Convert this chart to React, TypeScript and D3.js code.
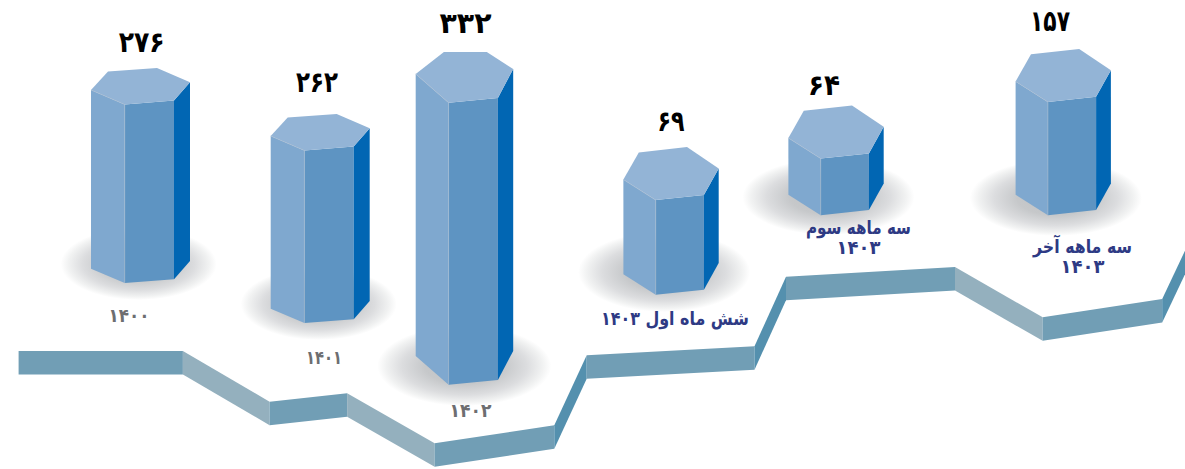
import React from "react";
import * as d3 from "d3";

const WIDTH = 1185;
const HEIGHT = 469;

// ---- data ----
const categories = ["1400", "1401", "1402", "h1-1403", "q3-1403", "q4-1403"];
const values = [276, 262, 332, 69, 64, 157];
const labelLines = [
  ["۱۴۰۰"],
  ["۱۴۰۱"],
  ["۱۴۰۲"],
  ["شش ماه اول ۱۴۰۳"],
  ["سه ماهه سوم", "۱۴۰۳"],
  ["سه ماهه آخر", "۱۴۰۳"],
];

// ---- illustrated (non-linear, hand-placed) layout ----
const barLeft = d3.scaleOrdinal<string, number>().domain(categories).range([91, 270.7, 415.7, 623.4, 788.4, 1015.6]);
const barBase = d3.scaleOrdinal<string, number>().domain(categories).range([268.7, 308.7, 356, 274.3, 194.7, 194.7]);
const sortedValues = [...values].sort(d3.ascending);
const barHeight = d3.scaleLinear().domain(sortedValues).range([56.7, 94.7, 113.3, 172.7, 178.7, 282]);
const valueX = d3.scaleOrdinal<string, number>().domain(categories).range([141.7, 317, 465.5, 671, 824, 1050]);
const valueY = d3.scaleOrdinal<string, number>().domain(categories).range([41.7, 81.7, 22.7, 120.7, 85, 21]);
const valueWidth = d3.scaleOrdinal<string, number>().domain(categories).range([46, 42, 52, 27, 32, 40]);
const labelX = d3.scaleOrdinal<string, number>().domain(categories).range([129, 324, 470.5, 675, 858.5, 1082.5]);
const labelY = d3.scaleOrdinal<string, number>().domain(categories).range([314.5, 357, 410, 318, 226.5, 245.5]);
const labelWidth = d3.scaleOrdinal<string, number>().domain(categories).range([41, 36, 42, 148, 105, 99]);
const SECOND_LINE_WIDTH = 44;
const labelFill = d3.scaleOrdinal<string, string>().domain(categories).range(["#6d6e71", "#6d6e71", "#6d6e71", "#2e3a84", "#2e3a84", "#2e3a84"]);
const shadowX = d3.scaleOrdinal<string, number>().domain(categories).range([138.7, 318.7, 464.3, 664.2, 828.5, 1056]);
const shadowY = d3.scaleOrdinal<string, number>().domain(categories).range([264, 304, 366, 272, 197, 198]);
const shadowRx = d3.scaleOrdinal<string, number>().domain(categories).range([78, 78, 87, 86, 86, 86]);
const shadowRy = d3.scaleOrdinal<string, number>().domain(categories).range([36, 36, 40, 40, 38, 38]);

type Pt = [number, number];
// hexagon offsets from the left vertex: front-left, front-right, right, back-right, back-left
const profileA: Pt[] = [[33.7, 14.4], [83, 10.6], [99, -7.8], [66, -22], [17, -18.5]];
const profileB: Pt[] = [[32.9, 28.7], [82.2, 24], [97.5, -5], [71.1, -22], [28.2, -22]];
const profileC: Pt[] = [[32.3, 20.5], [80.5, 15.4], [95.3, -11.2], [63.6, -32.5], [15.4, -27.2]];
const barProfile = d3.scaleOrdinal<string, Pt[]>().domain(categories).range([profileA, profileA, profileB, profileC, profileC, profileC]);

// ribbon top edge
const ribbonX = [18.6, 182.9, 269.6, 347.1, 434.6, 554.3, 586.7, 754.5, 786, 955, 1042.7, 1162.2, 1185];
const ribbonY = [351, 351, 401.7, 393.3, 443.3, 425.3, 355.3, 346.3, 276.7, 267, 317.3, 299, 250.7];
const RIBBON_DEPTH = 23.5;

const COL = {
  top: "#93b4d6",
  left: "#7fa8cf",
  front: "#5e94c2",
  right: "#0166b3",
  edge: "#a9bcd0",
  flat: "#719eb5",
  down: "#94b0be",
  up: "#5490ae",
};

const line = d3.line<Pt>().x((d) => d[0]).y((d) => d[1]);
const poly = (pts: Pt[]) => line(pts) + "Z";
const FONT = "'DejaVu Sans', sans-serif";
const faDigits = (n: number) => String(n).replace(/\d/g, (d) => "۰۱۲۳۴۵۶۷۸۹"[+d]);

function Prism({ cat, value }: { cat: string; value: number }) {
  const x = barLeft(cat);
  const base = barBase(cat);
  const top = base - barHeight(value);
  const p = barProfile(cat);
  const hex = (y: number): Pt[] => [[x, y], ...p.map(([dx, dy]) => [x + dx, y + dy] as Pt)];
  const t = hex(top);
  const b = hex(base);
  return (
    <g>
      <path d={poly([t[0], t[1], b[1], b[0]])} fill={COL.left} />
      <path d={poly([t[1], t[2], b[2], b[1]])} fill={COL.front} />
      <path d={poly([t[2], t[3], b[3], b[2]])} fill={COL.right} />
      <path d={poly(t)} fill={COL.top} />
      <path d={line([t[0], t[1], b[1]]) ?? ""} fill="none" stroke={COL.edge} strokeWidth={0.6} />
    </g>
  );
}

export default function App() {
  const pts: Pt[] = ribbonX.map((x, i) => [x, ribbonY[i]]);
  const segments = d3.pairs(pts);
  return (
    <svg width={WIDTH} height={HEIGHT} viewBox={`0 0 ${WIDTH} ${HEIGHT}`} style={{ position: "absolute", left: 0, top: 0, background: "#fff" }}>
      <defs>
        <radialGradient id="shadow">
          <stop offset="0%" stopColor="#bfc1c3" />
          <stop offset="45%" stopColor="#c6c8ca" />
          <stop offset="72%" stopColor="#dcdddf" />
          <stop offset="90%" stopColor="#f1f2f2" />
          <stop offset="100%" stopColor="#ffffff" />
        </radialGradient>
      </defs>
      <g>
        {segments.map(([a, b], i) => {
          const dy = b[1] - a[1];
          const fill = dy < -30 ? COL.up : dy > 30 ? COL.down : COL.flat;
          return (
            <path
              key={i}
              d={poly([a, b, [b[0], b[1] + RIBBON_DEPTH], [a[0], a[1] + RIBBON_DEPTH]])}
              fill={fill}
            />
          );
        })}
      </g>
      {categories.map((c) => (
        <ellipse key={c} cx={shadowX(c)} cy={shadowY(c)} rx={shadowRx(c)} ry={shadowRy(c)} fill="url(#shadow)" />
      ))}
      {categories.map((c, i) => (
        <Prism key={c} cat={c} value={values[i]} />
      ))}
      {categories.map((c, i) => (
        <text key={c} x={valueX(c)} y={valueY(c)} textAnchor="middle" dominantBaseline="central" fontFamily={FONT} fontWeight={700} fontSize={29} fill="#000" textLength={valueWidth(c)} lengthAdjust="spacingAndGlyphs">
          {faDigits(values[i])}
        </text>
      ))}
      {categories.map((c, i) => (
        <g key={c}>
          {labelLines[i].map((t, j) => (
            <text key={j} x={labelX(c)} y={labelY(c) + j * 20} textAnchor="middle" dominantBaseline="central" direction="rtl" fontFamily={FONT} fontWeight={700} fontSize={19} fill={labelFill(c)} textLength={j === 0 ? labelWidth(c) : SECOND_LINE_WIDTH} lengthAdjust="spacingAndGlyphs">
              {t}
            </text>
          ))}
        </g>
      ))}
    </svg>
  );
}
